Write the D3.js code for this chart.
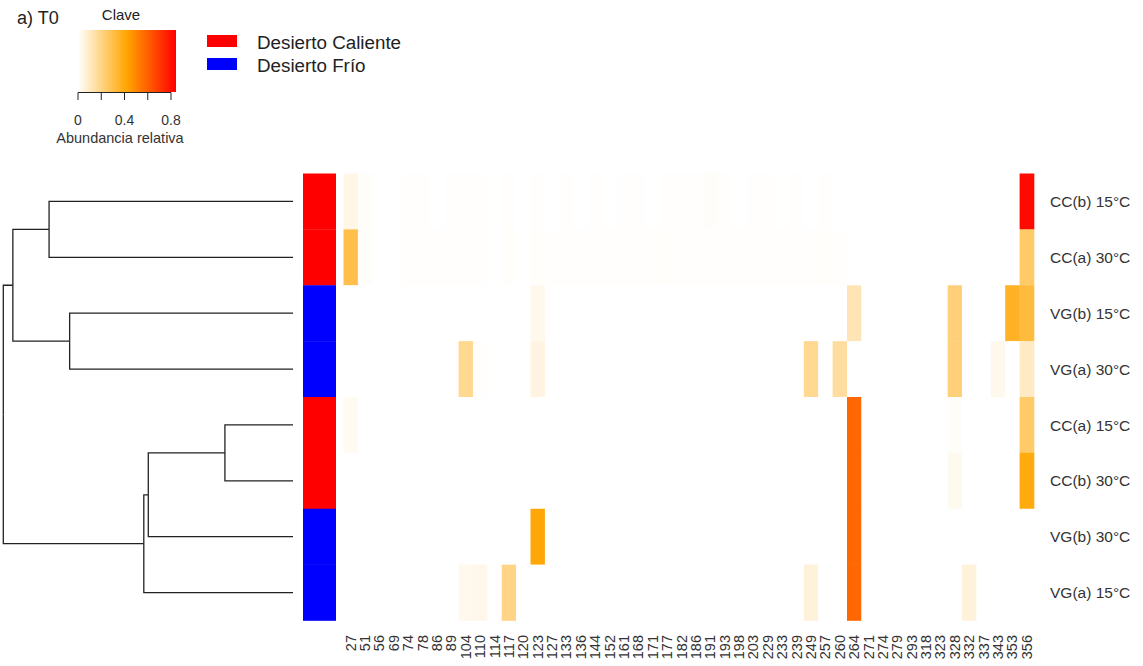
<!DOCTYPE html>
<html>
<head>
<meta charset="utf-8">
<script src="https://cdn.jsdelivr.net/npm/d3@7"></script>
<style>
  html, body { margin: 0; padding: 0; background: #fff; }
  svg { display: block; font-family: "Liberation Sans", Arial, sans-serif; }
</style>
</head>
<body>
<svg id="chart" width="1143" height="666"></svg>
<script>
// OTU identifiers (heatmap columns)
const otus = ["27","51","56","69","74","78","86","89","104","110","114","117","120","123","127","133",
  "136","144","152","161","168","171","177","182","186","191","193","198","203","229","233","239",
  "249","257","260","264","271","274","279","293","318","323","328","332","337","343","353","356"];

// Samples in dendrogram order (heatmap rows)
const samples = ["CC(b) 15°C","CC(a) 30°C","VG(b) 15°C","VG(a) 30°C","CC(a) 15°C","CC(b) 30°C","VG(b) 30°C","VG(a) 15°C"];
const desert = ["Caliente","Caliente","Frío","Frío","Caliente","Caliente","Frío","Frío"];

// Relative abundance per sample, one value per OTU
const ccb15 = [0.04,0.01,0,0,0.003,0.003,0,0.003,0.003,0.003,0,0.004,0,0.005,0,0.003,0,0.003,0,0.003,0.003,0,0.003,0.003,0.003,0.01,0.003,0,0.003,0.003,0,0.003,0,0.004,0,0,0,0,0,0,0,0,0,0,0,0,0,0.82];
const cca30 = [0.30,0.01,0,0,0.003,0.003,0.003,0.003,0.003,0.003,0,0.006,0,0.006,0.003,0.003,0.003,0.003,0.003,0.003,0.003,0.003,0.006,0.003,0.003,0.003,0.003,0.003,0.003,0.003,0.003,0.003,0.003,0.006,0.003,0,0,0,0,0,0,0,0,0,0,0,0,0.25];
const vgb15 = [0,0,0,0,0,0,0,0,0,0,0,0,0,0.03,0,0,0,0,0,0,0,0,0,0,0,0,0,0,0,0,0,0,0,0,0,0.12,0,0,0,0,0,0,0.22,0,0,0,0.36,0.32];
const vga30 = [0,0,0,0,0,0,0,0,0.18,0.005,0,0,0,0.05,0,0,0,0,0,0,0,0,0,0,0,0,0,0,0,0,0,0,0.18,0,0.16,0,0,0,0,0,0,0,0.22,0,0,0.03,0,0.10];
const cca15 = [0.02,0,0,0,0,0,0,0,0,0,0,0,0,0,0,0,0,0,0,0,0,0,0,0,0,0,0,0,0,0,0,0,0,0,0,0.58,0,0,0,0,0,0,0.008,0,0,0,0,0.25];
const ccb30 = [0,0,0,0,0,0,0,0,0,0,0,0,0,0,0,0,0,0,0,0,0,0,0,0,0,0,0,0,0,0,0,0,0,0,0,0.58,0,0,0,0,0,0,0.025,0,0,0,0,0.40];
const vgb30 = [0,0,0,0,0,0,0,0,0,0,0,0,0,0.41,0,0,0,0,0,0,0,0,0,0,0,0,0,0,0,0,0,0,0,0,0,0.58,0,0,0,0,0,0,0,0,0,0,0,0];
const vga15 = [0,0,0,0,0,0,0,0,0.03,0.035,0,0.20,0,0,0,0,0,0,0,0,0,0,0,0,0,0,0,0,0,0,0,0,0.06,0,0,0.58,0,0,0,0,0,0,0,0.06,0,0,0,0];
const abundance = [ccb15, cca30, vgb15, vga30, cca15, ccb30, vgb30, vga15];

// Colour key range and ticks
const keyMax = 0.843;
const keyTicks = [0, 0.2, 0.4, 0.6, 0.8];
const keyTickLabels = ["0", "", "0.4", "", "0.8"];

// Hierarchical clustering of the samples (merge heights)
const tree = {
  h: 1.0, children: [
    { h: 0.967, children: [
      { h: 0.842, children: [{ name: "CC(b) 15°C" }, { name: "CC(a) 30°C" }] },
      { h: 0.771, children: [{ name: "VG(b) 15°C" }, { name: "VG(a) 30°C" }] }
    ]},
    { h: 0.515, children: [
      { h: 0.4995, children: [
        { h: 0.235, children: [{ name: "CC(a) 15°C" }, { name: "CC(b) 30°C" }] },
        { name: "VG(b) 30°C" }
      ]},
      { name: "VG(a) 15°C" }
    ]}
  ]
};

const groupColors = { "Caliente": "#ff0000", "Frío": "#0000ff" };
const groupLabels = [["Caliente", "Desierto Caliente"], ["Frío", "Desierto Frío"]];

const svg = d3.select("#chart");

const x = d3.scaleBand().domain(otus).range([343.5, 1034]).padding(0);
const y = d3.scaleBand().domain(samples).range([173.5, 620.5]).padding(0);
const color = d3.scaleLinear()
  .domain([0, keyMax / 2, keyMax])
  .range(["#ffffff", "#ffa500", "#ff0000"])
  .clamp(true);

// Heatmap cells
const cells = [];
samples.forEach((s, i) => otus.forEach((o, j) => cells.push({ s, o, v: abundance[i][j] })));
svg.append("g").selectAll("rect").data(cells).join("rect")
  .attr("x", d => x(d.o))
  .attr("y", d => y(d.s))
  .attr("width", x.bandwidth() + 0.3)
  .attr("height", y.bandwidth() + 0.3)
  .attr("fill", d => color(d.v));

// Side colour bar for desert type
svg.append("g").selectAll("rect").data(samples).join("rect")
  .attr("x", 303).attr("width", 33)
  .attr("y", d => y(d)).attr("height", y.bandwidth() + 0.3)
  .attr("fill", (d, i) => groupColors[desert[i]]);

// Row labels
svg.append("g").selectAll("text").data(samples).join("text")
  .attr("x", 1050)
  .attr("y", d => y(d) + y.bandwidth() / 2)
  .attr("dy", "0.36em")
  .attr("font-size", 15.5)
  .attr("fill", "#333")
  .text(d => d);

// Column labels, rotated
svg.append("g").selectAll("text").data(otus).join("text")
  .attr("transform", d => `translate(${x(d) + x.bandwidth() / 2 + 5},635) rotate(-90)`)
  .attr("text-anchor", "end")
  .attr("font-size", 14.5)
  .attr("fill", "#333")
  .text(d => d);

// Dendrogram
const root = d3.hierarchy(tree);
const hx = d3.scaleLinear().domain([0, 1]).range([293, 3.3]);
root.eachAfter(n => {
  if (!n.children) { n.py = y(n.data.name) + y.bandwidth() / 2; n.px = hx(0); }
  else { n.py = d3.mean(n.children, c => c.py); n.px = hx(n.data.h); }
});
const links = [];
root.each(n => { if (n.children) n.children.forEach(c => links.push([n, c])); });
svg.append("g").attr("fill", "none").attr("stroke", "#222").attr("stroke-width", 1.3)
  .selectAll("path").data(links).join("path")
  .attr("d", ([p, c]) => `M${p.px},${p.py}V${c.py}H${c.px}`);

// Title
svg.append("text").attr("x", 17).attr("y", 24).attr("font-size", 18).attr("fill", "#222").text("a) T0");

// Colour key
const kx = d3.scaleLinear().domain([0, keyMax]).range([78, 176]);
const grad = svg.append("defs").append("linearGradient").attr("id", "keyGrad");
d3.range(0, 1.0001, 0.05).forEach(t => grad.append("stop")
  .attr("offset", t).attr("stop-color", color(t * keyMax)));
svg.append("rect").attr("x", kx(0)).attr("y", 30).attr("width", kx(keyMax) - kx(0)).attr("height", 62)
  .attr("fill", "url(#keyGrad)");
svg.append("text").attr("x", 121).attr("y", 20).attr("text-anchor", "middle")
  .attr("font-size", 15).attr("fill", "#222").text("Clave");
const keyAxis = svg.append("g").attr("stroke", "#222").attr("stroke-width", 1);
keyAxis.append("line").attr("x1", kx(0)).attr("x2", kx(0.8)).attr("y1", 92.5).attr("y2", 92.5);
keyAxis.selectAll("line.tick").data(keyTicks).join("line").attr("class", "tick")
  .attr("x1", d => kx(d)).attr("x2", d => kx(d)).attr("y1", 92.5).attr("y2", 100);
svg.append("g").selectAll("text").data(keyTicks).join("text")
  .attr("x", d => kx(d)).attr("y", 125).attr("text-anchor", "middle")
  .attr("font-size", 14).attr("fill", "#333")
  .text((d, i) => keyTickLabels[i]);
svg.append("text").attr("x", 120).attr("y", 143).attr("text-anchor", "middle")
  .attr("font-size", 14.5).attr("fill", "#333").text("Abundancia relativa");

// Desert type legend
const lg = svg.append("g").selectAll("g").data(groupLabels).join("g")
  .attr("transform", (d, i) => `translate(0,${i * 23})`);
lg.append("rect").attr("x", 207).attr("y", 35).attr("width", 30).attr("height", 12)
  .attr("fill", d => groupColors[d[0]]);
lg.append("text").attr("x", 257).attr("y", 49).attr("font-size", 18.8).attr("fill", "#222")
  .text(d => d[1]);
</script>
</body>
</html>
